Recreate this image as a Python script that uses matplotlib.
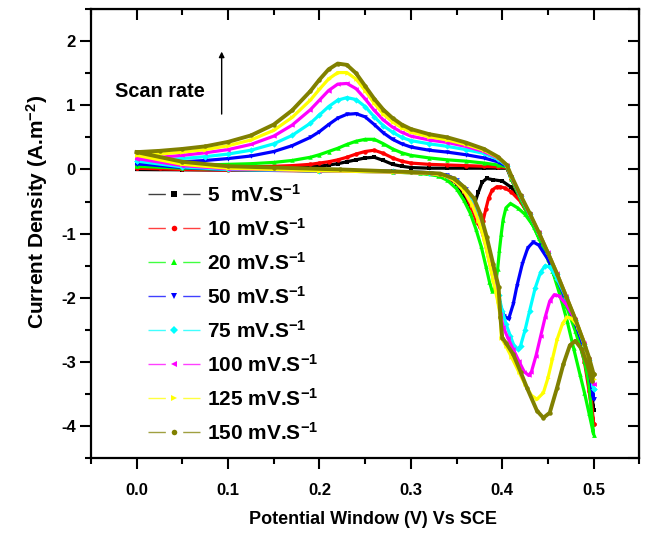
import matplotlib
matplotlib.use('Agg')
import matplotlib.pyplot as plt
from matplotlib.lines import Line2D
from matplotlib.legend_handler import HandlerTuple
from matplotlib.ticker import MultipleLocator

plt.rcParams['font.family'] = ['Liberation Sans', 'DejaVu Sans']
plt.rcParams['font.weight'] = 'bold'
plt.rcParams['mathtext.fontset'] = 'custom'
plt.rcParams['mathtext.rm'] = 'Liberation Sans:bold'
plt.rcParams['mathtext.it'] = 'Liberation Sans:bold'
plt.rcParams['mathtext.bf'] = 'Liberation Sans:bold'
plt.rcParams['axes.unicode_minus'] = False

labels = ['5  mV.S$^{-1}$', '10 mV.S$^{-1}$', '20 mV.S$^{-1}$', '50 mV.S$^{-1}$',
          '75 mV.S$^{-1}$', '100 mV.S$^{-1}$', '125 mV.S$^{-1}$', '150 mV.S$^{-1}$']
colors = ['#000000', '#FF0000', '#00FF00', '#0000FF', '#00FFFF', '#FF00FF', '#FFFF00', '#808000']
markers = ['s', 'o', '^', 'v', 'D', '<', '>', 'o']

# forward (anodic) branch, shared potentials
up_x = [0.0, 0.025, 0.05, 0.075, 0.1, 0.125, 0.15, 0.17, 0.19, 0.2, 0.21, 0.22, 0.23,
        0.24, 0.25, 0.26, 0.27, 0.28, 0.29, 0.3, 0.32, 0.34, 0.36, 0.38, 0.395, 0.405]
up_y_5 = [0.0, 0.0, 0.005, 0.01, 0.01, 0.015, 0.02, 0.03, 0.04, 0.05, 0.07, 0.09, 0.12,
          0.15, 0.18, 0.19, 0.14, 0.08, 0.05, 0.03, 0.02, 0.02, 0.02, 0.02, 0.02, 0.02]
up_y_10 = [0.02, 0.02, 0.025, 0.03, 0.035, 0.04, 0.05, 0.06, 0.08, 0.1, 0.12, 0.15, 0.19,
           0.24, 0.28, 0.3, 0.25, 0.18, 0.13, 0.1, 0.08, 0.07, 0.06, 0.05, 0.04, 0.03]
up_y_20 = [0.05, 0.055, 0.06, 0.07, 0.08, 0.09, 0.11, 0.14, 0.19, 0.23, 0.28, 0.33, 0.39,
           0.44, 0.47, 0.47, 0.4, 0.32, 0.26, 0.22, 0.18, 0.15, 0.13, 0.1, 0.07, 0.04]
up_y_50 = [0.09, 0.1, 0.12, 0.14, 0.17, 0.21, 0.28, 0.37, 0.5, 0.59, 0.7, 0.8, 0.86,
           0.87, 0.82, 0.7, 0.57, 0.47, 0.4, 0.35, 0.3, 0.27, 0.23, 0.18, 0.12, 0.05]
up_y_75 = [0.13, 0.15, 0.17, 0.2, 0.24, 0.3, 0.4, 0.53, 0.72, 0.85, 0.98, 1.08, 1.12,
           1.09, 0.98, 0.82, 0.68, 0.58, 0.5, 0.45, 0.4, 0.36, 0.31, 0.25, 0.16, 0.06]
up_y_100 = [0.17, 0.19, 0.22, 0.26, 0.31, 0.39, 0.52, 0.69, 0.93, 1.08, 1.23, 1.33, 1.34,
            1.26, 1.1, 0.92, 0.77, 0.66, 0.58, 0.52, 0.46, 0.42, 0.36, 0.28, 0.18, 0.07]
up_y_125 = [0.22, 0.24, 0.27, 0.31, 0.37, 0.46, 0.61, 0.81, 1.08, 1.25, 1.41, 1.51, 1.51,
            1.41, 1.23, 1.03, 0.86, 0.74, 0.65, 0.58, 0.51, 0.46, 0.39, 0.3, 0.19, 0.07]
up_y_150 = [0.27, 0.29, 0.32, 0.36, 0.43, 0.53, 0.7, 0.92, 1.22, 1.4, 1.56, 1.65, 1.63,
            1.5, 1.3, 1.1, 0.93, 0.8, 0.7, 0.63, 0.55, 0.5, 0.42, 0.32, 0.2, 0.07]

# steep descent towards the vertex, shared potentials
desc_x = [0.41, 0.42, 0.43, 0.44, 0.45, 0.46, 0.47, 0.48, 0.49, 0.495, 0.5]
desc_y_5 = [-0.14, -0.45, -0.74, -1.04, -1.36, -1.7, -2.05, -2.42, -2.85, -3.15, -3.75]
desc_y_10 = [-0.15, -0.46, -0.75, -1.05, -1.37, -1.71, -2.06, -2.44, -2.88, -3.2, -3.97]
desc_y_20 = [-0.15, -0.46, -0.76, -1.07, -1.4, -1.75, -2.12, -2.52, -2.98, -3.35, -4.13]
desc_y_50 = [-0.12, -0.42, -0.7, -0.99, -1.3, -1.63, -1.98, -2.34, -2.74, -3.0, -3.58]
desc_y_75 = [-0.12, -0.42, -0.7, -0.99, -1.3, -1.63, -1.98, -2.34, -2.72, -2.97, -3.42]
desc_y_100 = [-0.12, -0.41, -0.69, -0.98, -1.29, -1.62, -1.97, -2.33, -2.72, -2.96, -3.35]
desc_y_125 = [-0.11, -0.4, -0.68, -0.98, -1.29, -1.62, -1.97, -2.33, -2.71, -2.95, -3.27]
desc_y_150 = [-0.1, -0.4, -0.68, -0.98, -1.3, -1.63, -1.98, -2.33, -2.72, -2.93, -3.19]

# reverse (cathodic) branch
ret_x_5 = [0.5, 0.495, 0.49, 0.48, 0.47, 0.46, 0.45, 0.44, 0.43, 0.42, 0.41, 0.4, 0.39,
           0.383, 0.378, 0.374, 0.37, 0.366, 0.362, 0.356, 0.35, 0.34, 0.32, 0.28, 0.2,
           0.1, 0.05, 0.0]
ret_y_5 = [-3.75, -3.3, -2.9, -2.4, -2.0, -1.65, -1.3, -1.0, -0.72, -0.47, -0.28, -0.18,
           -0.16, -0.14, -0.2, -0.35, -0.52, -0.6, -0.5, -0.35, -0.22, -0.12, -0.06, -0.03,
           -0.02, -0.01, -0.005, 0.0]
ret_x_10 = [0.5, 0.495, 0.49, 0.48, 0.47, 0.46, 0.45, 0.44, 0.43, 0.42, 0.41, 0.403, 0.398,
            0.394, 0.389, 0.385, 0.382, 0.379, 0.376, 0.372, 0.367, 0.361, 0.354, 0.345,
            0.335, 0.32, 0.28, 0.2, 0.1, 0.05, 0.0]
ret_y_10 = [-3.97, -3.45, -3.0, -2.45, -2.05, -1.68, -1.33, -1.02, -0.74, -0.5, -0.35,
            -0.29, -0.27, -0.27, -0.32, -0.45, -0.62, -0.8, -0.9, -0.82, -0.62, -0.42,
            -0.26, -0.15, -0.09, -0.05, -0.03, -0.02, -0.01, 0.0, 0.02]
ret_x_20 = [0.5, 0.495, 0.49, 0.485, 0.478, 0.471, 0.463, 0.455, 0.445, 0.435, 0.425,
            0.417, 0.409, 0.404, 0.401, 0.399, 0.397, 0.395, 0.392, 0.389, 0.386, 0.382,
            0.377, 0.371, 0.365, 0.358, 0.35, 0.34, 0.33, 0.31, 0.28, 0.2, 0.1, 0.05, 0.0]
ret_y_20 = [-4.13, -3.8, -3.48, -3.19, -2.78, -2.36, -1.95, -1.58, -1.2, -0.9, -0.7, -0.6,
            -0.53, -0.6, -0.78, -1.0, -1.25, -1.55, -1.85, -1.9, -1.75, -1.5, -1.2, -0.92,
            -0.68, -0.48, -0.3, -0.17, -0.1, -0.06, -0.04, -0.02, 0.0, 0.02, 0.05]
ret_x_50 = [0.5, 0.495, 0.49, 0.48, 0.47, 0.46, 0.45, 0.44, 0.434, 0.428, 0.422, 0.416,
            0.412, 0.407, 0.402, 0.397, 0.392, 0.387, 0.381, 0.375, 0.368, 0.36, 0.35,
            0.34, 0.32, 0.28, 0.2, 0.1, 0.05, 0.0]
ret_y_50 = [-3.58, -3.1, -2.8, -2.4, -2.05, -1.7, -1.4, -1.18, -1.13, -1.22, -1.47, -1.82,
            -2.1, -2.33, -2.28, -2.08, -1.8, -1.48, -1.12, -0.82, -0.54, -0.31, -0.16,
            -0.09, -0.05, -0.03, -0.02, 0.0, 0.03, 0.09]
ret_x_75 = [0.5, 0.495, 0.49, 0.48, 0.47, 0.46, 0.452, 0.447, 0.442, 0.436, 0.43, 0.425,
            0.42, 0.417, 0.413, 0.409, 0.404, 0.4, 0.396, 0.391, 0.386, 0.381, 0.375,
            0.368, 0.36, 0.35, 0.34, 0.32, 0.28, 0.2, 0.1, 0.05, 0.0]
ret_y_75 = [-3.42, -3.05, -2.75, -2.35, -2.0, -1.7, -1.52, -1.5, -1.6, -1.85, -2.2, -2.5,
            -2.75, -2.8, -2.75, -2.6, -2.4, -2.2, -1.95, -1.65, -1.35, -1.05, -0.78, -0.53,
            -0.33, -0.18, -0.1, -0.05, -0.03, -0.02, 0.0, 0.04, 0.13]
ret_x_100 = [0.5, 0.495, 0.49, 0.48, 0.47, 0.462, 0.457, 0.452, 0.447, 0.442, 0.437,
             0.432, 0.429, 0.424, 0.418, 0.412, 0.406, 0.401, 0.398, 0.395, 0.39, 0.385,
             0.38, 0.374, 0.367, 0.358, 0.348, 0.338, 0.32, 0.28, 0.2, 0.1, 0.05, 0.0]
ret_y_100 = [-3.35, -3.0, -2.7, -2.35, -2.1, -1.97, -1.95, -2.05, -2.3, -2.6, -2.9, -3.15,
             -3.21, -3.15, -2.98, -2.8, -2.62, -2.45, -2.25, -2.0, -1.7, -1.38, -1.07,
             -0.8, -0.55, -0.33, -0.18, -0.1, -0.06, -0.04, -0.02, 0.01, 0.06, 0.17]
ret_x_125 = [0.5, 0.495, 0.49, 0.483, 0.476, 0.471, 0.466, 0.46, 0.455, 0.45, 0.445,
             0.438, 0.432, 0.425, 0.418, 0.41, 0.404, 0.399, 0.398, 0.395, 0.39, 0.385,
             0.38, 0.374, 0.367, 0.358, 0.348, 0.338, 0.32, 0.28, 0.2, 0.1, 0.05, 0.0]
ret_y_125 = [-3.27, -3.0, -2.72, -2.45, -2.32, -2.3, -2.4, -2.65, -2.95, -3.25, -3.48,
             -3.58, -3.52, -3.35, -3.15, -2.92, -2.75, -2.62, -2.3, -2.05, -1.72, -1.4,
             -1.08, -0.8, -0.55, -0.33, -0.18, -0.1, -0.06, -0.04, -0.02, 0.02, 0.08, 0.22]
ret_x_150 = [0.5, 0.498, 0.494, 0.487, 0.48, 0.474, 0.467, 0.46, 0.452, 0.445, 0.438,
             0.427, 0.42, 0.412, 0.404, 0.4, 0.398, 0.396, 0.39, 0.383, 0.376, 0.369,
             0.358, 0.347, 0.332, 0.3, 0.223, 0.15, 0.1, 0.05, 0.0]
ret_y_150 = [-3.19, -3.3, -3.08, -2.8, -2.67, -2.74, -3.03, -3.4, -3.79, -3.87, -3.76,
             -3.4, -3.15, -2.88, -2.7, -2.62, -2.3, -1.83, -1.47, -1.05, -0.69, -0.45,
             -0.27, -0.14, -0.063, -0.04, 0.0, 0.03, 0.05, 0.12, 0.27]

up_ys = [up_y_5, up_y_10, up_y_20, up_y_50, up_y_75, up_y_100, up_y_125, up_y_150]
desc_ys = [desc_y_5, desc_y_10, desc_y_20, desc_y_50, desc_y_75, desc_y_100, desc_y_125, desc_y_150]
ret_xs = [ret_x_5, ret_x_10, ret_x_20, ret_x_50, ret_x_75, ret_x_100, ret_x_125, ret_x_150]
ret_ys = [ret_y_5, ret_y_10, ret_y_20, ret_y_50, ret_y_75, ret_y_100, ret_y_125, ret_y_150]

fig = plt.figure(figsize=(6.48, 5.34), dpi=100)
ax = fig.add_axes([0.1404, 0.1418, 0.8462, 0.8413])

for i in range(8):
    xs = up_x + desc_x + ret_xs[i]
    ys = up_ys[i] + desc_ys[i] + ret_ys[i]
    ax.plot(xs, ys, color=colors[i], lw=2.8 if i == 7 else 2.3, marker=markers[i],
            ms=3.2, mew=0, zorder=2 + i)

ax.set_xlim(-0.05, 0.55)
ax.set_ylim(-4.5, 2.5)
ax.xaxis.set_major_locator(MultipleLocator(0.1))
ax.xaxis.set_minor_locator(MultipleLocator(0.05))
ax.yaxis.set_major_locator(MultipleLocator(1))
ax.yaxis.set_minor_locator(MultipleLocator(0.5))
ax.set_xticks([0.0, 0.1, 0.2, 0.3, 0.4, 0.5])
ax.set_xticklabels(['0.0', '0.1', '0.2', '0.3', '0.4', '0.5'])

ax.tick_params(which='both', bottom=True, left=True, top=False, right=False,
               direction='out', width=1.5, labelsize=12)
ax.tick_params(which='major', length=8)
ax.tick_params(which='minor', length=4)
ax.tick_params(axis='x', pad=10)
ax.tick_params(axis='y', pad=3)
for s in ax.spines.values():
    s.set_linewidth(1.6)

# inward ticks on top and right
axt = ax.secondary_xaxis('top')
axt.xaxis.set_major_locator(MultipleLocator(0.1))
axt.xaxis.set_minor_locator(MultipleLocator(0.05))
axt.tick_params(which='both', direction='in', width=1.5, labeltop=False)
axt.tick_params(which='major', length=8)
axt.tick_params(which='minor', length=4)
axr = ax.secondary_yaxis('right')
axr.yaxis.set_major_locator(MultipleLocator(1))
axr.yaxis.set_minor_locator(MultipleLocator(0.5))
axr.tick_params(which='both', direction='in', width=1.5, labelright=False, length=8)

ax.set_xlabel('Potential Window (V) Vs SCE', fontsize=13, fontweight='bold')
ax.xaxis.set_label_coords(0.514, -0.117)
ax.set_ylabel('Current Density (A.m$^{-2}$)', fontsize=15, fontweight='bold')
ax.yaxis.set_label_coords(-0.075, 0.548)

ax.text(-0.024, 1.21, 'Scan rate', fontsize=14.3, fontweight='bold', va='center', ha='left')
ax.annotate('', xy=(0.093, 1.88), xytext=(0.093, 0.82),
            arrowprops=dict(arrowstyle='-|>', color='black', lw=1.0, mutation_scale=8))

handles = []
for i in range(8):
    h1 = Line2D([], [], color=colors[i], lw=1.0, ls=(0, (12.5, 12.5)), alpha=0.75)
    h2 = Line2D([], [], ls='none', color=colors[i], marker=markers[i], ms=4, mew=0)
    handles.append((h1, h2))
leg = ax.legend(handles, labels, handler_map={tuple: HandlerTuple(ndivide=1, pad=0)},
                loc='upper left', bbox_to_anchor=(0.104, 0.611), frameon=False,
                fontsize=15, handlelength=2.5, handletextpad=0.35, labelspacing=0.58,
                borderpad=0, borderaxespad=0)

fig.savefig('out.png', dpi=100)
